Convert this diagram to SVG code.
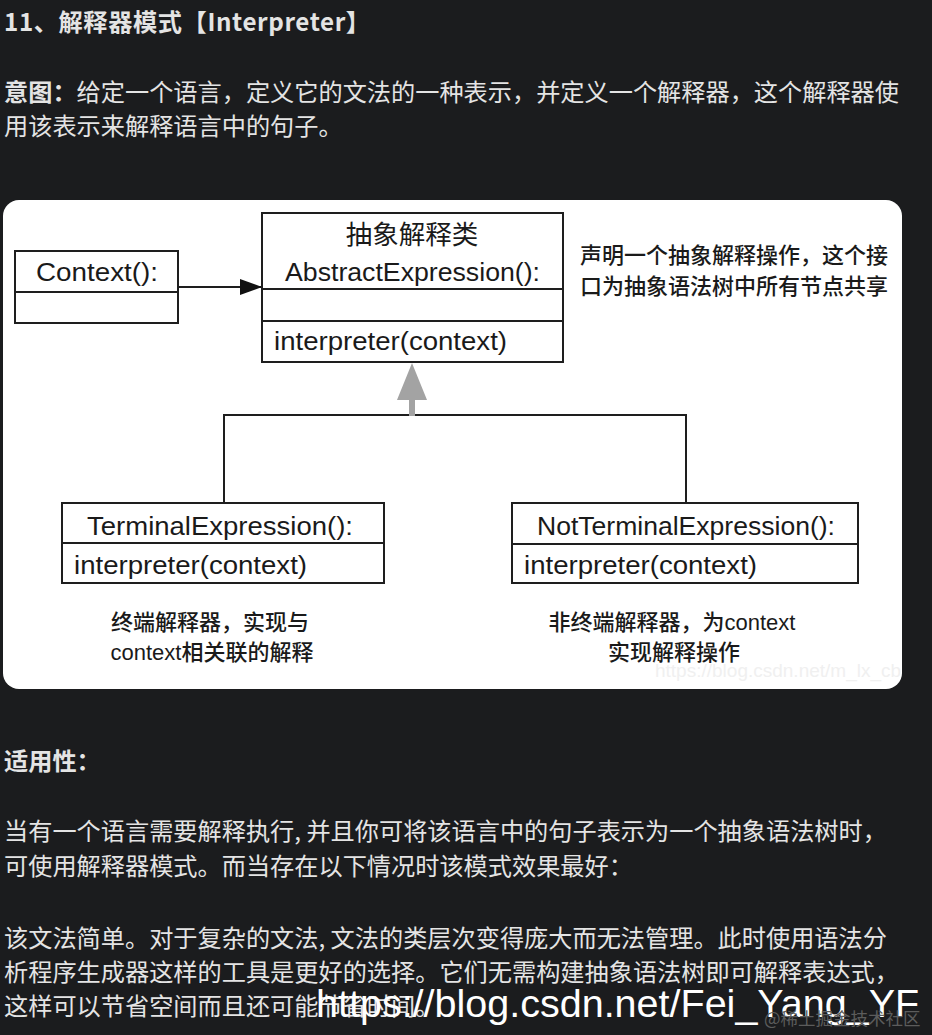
<svg xmlns="http://www.w3.org/2000/svg" width="932" height="1035" viewBox="0 0 932 1035">
<defs>
<style>
.page{fill:#e4e4e4;font-family:"Noto Sans CJK SC","Noto Sans",sans-serif;font-size:24.2px}
.b{font-weight:bold}
.box{fill:#ffffff;stroke:#1e1e1e;stroke-width:2}
.div{stroke:#1e1e1e;stroke-width:2}
.lbl{fill:#1a1a1a;font-family:"Liberation Sans","Noto Sans CJK SC",sans-serif;font-size:26.5px}
.cn{fill:#1a1a1a;font-family:"Liberation Sans","Noto Sans CJK SC",sans-serif;font-size:22px;font-weight:500}
.wire{fill:none;stroke:#1e1e1e;stroke-width:2}
</style>
<marker id="solid" viewBox="0 0 22 16" refX="22" refY="8" markerWidth="22" markerHeight="16" markerUnits="userSpaceOnUse" orient="auto">
<path d="M0,0 L22,8 L0,16 Z" fill="#111"/>
</marker>
</defs>
<rect x="0" y="0" width="932" height="1035" fill="#1b1c1e"/>

<g id="header">
<text class="page b" x="4" y="31" font-size="27" textLength="366" lengthAdjust="spacing">11、解释器模式【Interpreter】</text>
<text class="page" x="4" y="101"><tspan class="b">意图：</tspan>给定一个语言，定义它的文法的一种表示，并定义一个解释器，这个解释器使</text>
<text class="page" x="4" y="135">用该表示来解释语言中的句子。</text>
</g>

<rect id="card" x="3" y="200" width="899" height="489" rx="16" fill="#ffffff"/>

<g id="connectors">
<line class="wire" x1="178" y1="287" x2="262" y2="287" marker-end="url(#solid)"/>
<polyline class="wire" points="224,503 224,415 686,415 686,503"/>
<rect x="409" y="398" width="6" height="18" fill="#a3a3a3"/>
<path d="M412,363 L427,400 L397,400 Z" fill="#a3a3a3"/>
</g>

<g id="context">
<rect class="box" x="15" y="251" width="163" height="72"/>
<line class="div" x1="15" y1="292" x2="178" y2="292"/>
<text class="lbl" x="36" y="281" textLength="122" lengthAdjust="spacingAndGlyphs">Context():</text>
</g>

<g id="abstract">
<rect class="box" x="262" y="213" width="301" height="149"/>
<line class="div" x1="262" y1="289" x2="563" y2="289"/>
<line class="div" x1="262" y1="321" x2="563" y2="321"/>
<text class="lbl" x="412" y="244" text-anchor="middle" font-family="Noto Sans CJK SC,sans-serif" font-size="24">抽象解释类</text>
<text class="lbl" x="285" y="281" textLength="255" lengthAdjust="spacingAndGlyphs">AbstractExpression():</text>
<text class="lbl" x="274" y="350" textLength="233" lengthAdjust="spacingAndGlyphs">interpreter(context)</text>
</g>

<g id="note-abstract">
<text class="cn" x="580" y="263">声明一个抽象解释操作，这个接</text>
<text class="cn" x="580" y="294">口为抽象语法树中所有节点共享</text>
</g>

<g id="terminal">
<rect class="box" x="62" y="503" width="322" height="80"/>
<line class="div" x1="62" y1="543" x2="384" y2="543"/>
<text class="lbl" x="87" y="535" textLength="266" lengthAdjust="spacingAndGlyphs">TerminalExpression():</text>
<text class="lbl" x="74" y="574" textLength="233" lengthAdjust="spacingAndGlyphs">interpreter(context)</text>
</g>

<g id="note-terminal">
<text class="cn" x="210" y="630" text-anchor="middle">终端解释器，实现与</text>
<text class="cn" x="212" y="660" text-anchor="middle">context相关联的解释</text>
</g>

<g id="nonterminal">
<rect class="box" x="512" y="503" width="346" height="80"/>
<line class="div" x1="512" y1="544" x2="858" y2="544"/>
<text class="lbl" x="537" y="535" textLength="298" lengthAdjust="spacingAndGlyphs">NotTerminalExpression():</text>
<text class="lbl" x="524" y="574" textLength="233" lengthAdjust="spacingAndGlyphs">interpreter(context)</text>
</g>

<g id="note-nonterminal">
<text class="cn" x="672" y="630" text-anchor="middle">非终端解释器，为context</text>
<text class="cn" x="674" y="660" text-anchor="middle">实现解释操作</text>
</g>

<text x="655" y="677" fill="#f0f0f0" font-family="Liberation Sans,sans-serif" font-size="19">https://blog.csdn.net/m_lx_cb</text>

<g id="body">
<text class="page b" x="4" y="770">适用性：</text>
<text class="page" x="4" y="840">当有一个语言需要解释执行, 并且你可将该语言中的句子表示为一个抽象语法树时，</text>
<text class="page" x="4" y="875">可使用解释器模式。而当存在以下情况时该模式效果最好：</text>
<text class="page" x="4" y="947">该文法简单。对于复杂的文法, 文法的类层次变得庞大而无法管理。此时使用语法分</text>
<text class="page" x="4" y="981">析程序生成器这样的工具是更好的选择。它们无需构建抽象语法树即可解释表达式，</text>
<text class="page" x="4" y="1015">这样可以节省空间而且还可能节省时间。</text>
</g>

<g id="watermarks">
<text x="316" y="1017" fill="#ffffff" font-family="Liberation Sans,sans-serif" font-size="39.5">https://blog.csdn.net/Fei_Yang_YF</text>
<text x="764" y="1025" fill="#5c5c5c" font-family="Noto Sans CJK SC,sans-serif" font-size="17.5">@稀土掘金技术社区</text>
</g>
</svg>
